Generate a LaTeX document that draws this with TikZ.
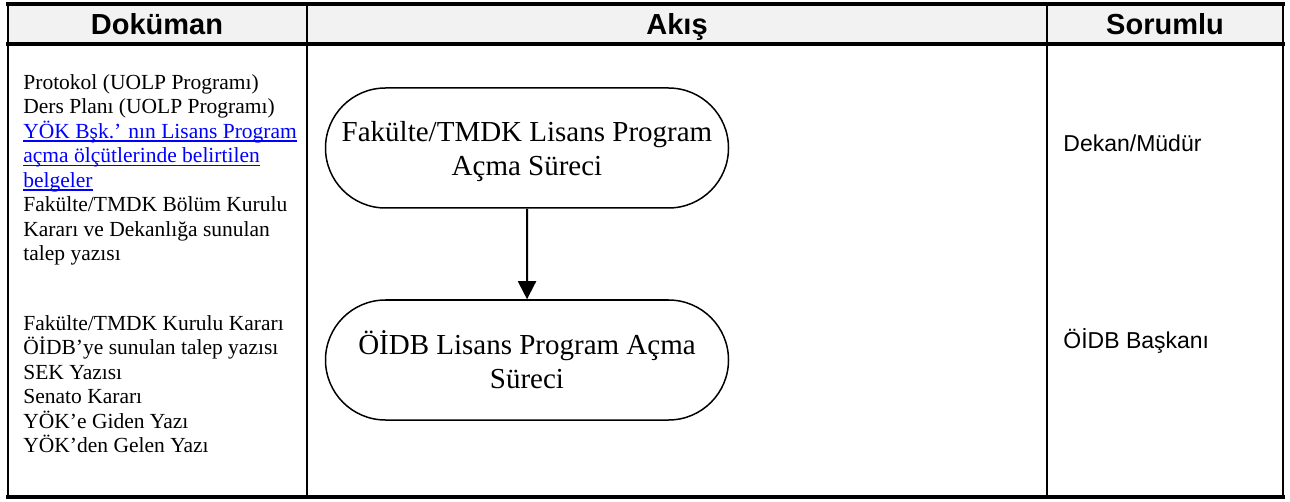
\documentclass[tikz,border=0pt]{standalone}
\usepackage{fontspec}
\setmainfont{Liberation Serif}
\newfontfamily\arialfont{Liberation Sans}
\usetikzlibrary{arrows.meta,shapes.misc}
\definecolor{baslikgri}{HTML}{F2F2F2}
\definecolor{linkmavi}{RGB}{0,0,255}
\newcommand\altcizgili[1]{\setbox0\hbox{#1}\rlap{\rule[-1.6pt]{\wd0}{0.55pt}}\box0}

\begin{document}
\begin{tikzpicture}[x=0.5pt,y=-0.5pt,
		baslik/.style={anchor=base, inner sep=0pt, font=\arialfont\bfseries\fontsize{14.5}{18}\selectfont},
		belge/.style={anchor=north west, align=left, inner sep=0pt, font=\fontsize{10.75}{12.25}\selectfont},
		surec/.style={rounded rectangle, draw, line width=0.75pt, minimum width=201.5pt, minimum height=60pt, inner sep=0pt, text depth=0pt, align=center, font=\fontsize{14.5}{17}\selectfont},
		sorumlu/.style={anchor=base west, inner sep=0pt, font=\arialfont\fontsize{11.5}{14}\selectfont},
		akisok/.style={-{Triangle[length=9pt,width=9pt]}, line width=1pt}]
		\useasboundingbox (0,0) rectangle (1290,502);
		
		% Header row
		\fill[baslikgri] (8,4) rectangle (1283,44);
		\node[baslik] (dokuman) at (157,35) {Doküman};
		\node[baslik] (akis) at (677,35) {Akış};
		\node[baslik] (sorumluh) at (1165,35) {Sorumlu};
		
		% Table frame and column lines
		\draw[line width=2pt] (6,4) -- (1285,4);
		\draw[line width=2pt] (6,44) -- (1285,44);
		\draw[line width=2pt] (6,497) -- (1285,497);
		\draw[line width=1.25pt] (8,4) -- (8,497);
		\draw[line width=1.25pt] (307,4) -- (307,497);
		\draw[line width=1.25pt] (1047,4) -- (1047,497);
		\draw[line width=1.25pt] (1283,4) -- (1283,497);
		
		% Documents
		\node[belge] (belge1) at (23,74) {Protokol (UOLP Programı)\\
			Ders Planı (UOLP Programı)\\
			\textcolor{linkmavi}{\altcizgili{YÖK Bşk.’ nın Lisans Program}}\\
			\textcolor{linkmavi}{\altcizgili{açma ölçütlerinde belirtilen}}\\
			\textcolor{linkmavi}{\altcizgili{belgeler}}\\
			Fakülte/TMDK Bölüm Kurulu\\
			Kararı ve Dekanlığa sunulan\\
			talep yazısı};
		\node[belge] (belge2) at (23,315) {Fakülte/TMDK Kurulu Kararı\\
			ÖİDB’ye sunulan talep yazısı\\
			SEK Yazısı\\
			Senato Kararı\\
			YÖK’e Giden Yazı\\
			YÖK’den Gelen Yazı};
		
		% Flow
		\node[surec] (fakulte) at (527,148) {Fakülte/TMDK Lisans Program\\Açma Süreci};
		\node[surec] (oidb) at (527,360) {ÖİDB Lisans Program Açma\\Süreci};
		\draw[akisok] (fakulte) -- (oidb);
		
		% Responsible
		\node[sorumlu] (dekan) at (1063,152) {Dekan/Müdür};
		\node[sorumlu] (baskan) at (1063,348) {ÖİDB Başkanı};
	\end{tikzpicture}
\end{document}
